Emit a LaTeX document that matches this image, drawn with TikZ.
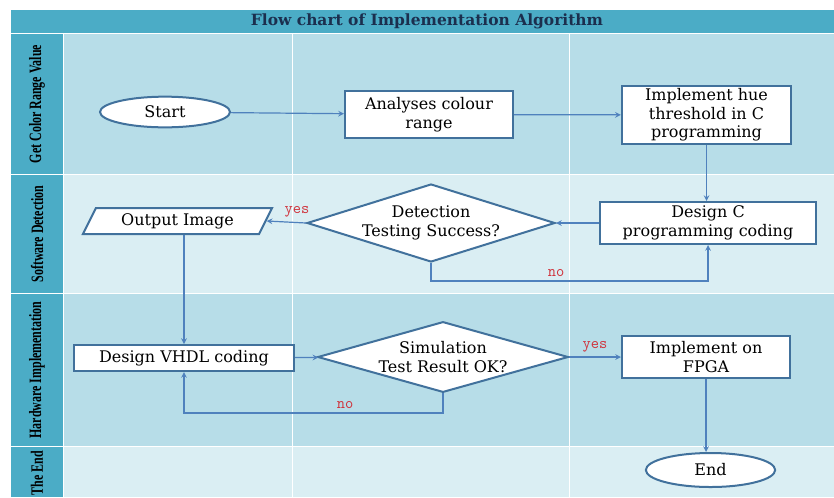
\documentclass[tikz,border=0pt]{standalone}
\usepackage{graphicx}
\usepackage{fontspec}
\setmainfont{DejaVu Serif}
\newfontfamily\lanefont{Liberation Serif}
\usepackage{tikz}
\usetikzlibrary{arrows, shapes.geometric, positioning}
\tikzset{>=stealth}

\definecolor{barteal}{HTML}{4BACC6}
\definecolor{lanedark}{HTML}{B7DDE8}
\definecolor{lanelight}{HTML}{DAEEF3}
\definecolor{edgeblue}{HTML}{41719C}
\definecolor{flowblue}{HTML}{4F81BD}
\definecolor{titleblue}{HTML}{1B2F4E}
\definecolor{answerred}{HTML}{D0313A}

\tikzset{
  shapebase/.style={draw=edgeblue, line width=1.5pt, fill=white, align=center,
    inner sep=1pt, font=\fontsize{12}{14}\selectfont},
  proc/.style={shapebase, rectangle},
  term/.style={shapebase, ellipse},
  decide/.style={shapebase, diamond, shape aspect=3.2, inner sep=-1.5pt},
  io/.style={shapebase, trapezium, trapezium left angle=63, trapezium right angle=117,
    trapezium stretches=true},
  flow/.style={->, draw=flowblue, line width=0.9pt},
  answer/.style={font=\ttfamily\fontsize{12}{13}\selectfont, text=answerred},
  lanetitle/.style={rotate=90, text=black, font=\lanefont\bfseries\fontsize{13}{15}\selectfont}
}

\begin{document}
\begin{tikzpicture}[x=0.75pt, y=-0.75pt]
  \useasboundingbox (0,0) rectangle (834,497);

  % swimlane background
  \fill[barteal] (11,10) rectangle (834,33);
  \fill[barteal] (11,33) rectangle (63,497);
  \fill[lanedark] (63,34) rectangle (834,174);
  \fill[lanelight] (63,175) rectangle (834,293);
  \fill[lanedark] (63,294) rectangle (834,446);
  \fill[lanelight] (63,447) rectangle (834,497);
  \draw[white, line width=1.2pt] (11,33.5) -- (834,33.5);
  \draw[white, line width=1.2pt] (11,174.5) -- (834,174.5);
  \draw[white, line width=1.2pt] (11,293.5) -- (834,293.5);
  \draw[white, line width=1.2pt] (11,446.5) -- (834,446.5);
  \draw[white, line width=0.8pt] (63.5,34) -- (63.5,497);
  \draw[white, line width=0.8pt] (292.5,34) -- (292.5,497);
  \draw[white, line width=0.8pt] (569.5,34) -- (569.5,497);

  \node[text=titleblue, font=\bfseries\fontsize{11.6}{13}\selectfont] (title) at (427,21.5)
    {Flow chart of Implementation Algorithm};
  \node[lanetitle] (laneA) at (37,104) {\scalebox{0.69}[1]{Get Color Range Value}};
  \node[lanetitle] (laneB) at (37,234) {\scalebox{0.69}[1]{Software Detection}};
  \node[lanetitle] (laneC) at (37,370) {\scalebox{0.69}[1]{Hardware Implementation}};
  \node[lanetitle] (laneD) at (37,473) {\scalebox{0.69}[1]{The End}};

  % flow chart
  \node[term, minimum width=97.5pt, minimum height=23pt] (start) at (165,112) {Start};
  \node[proc, minimum width=126pt, minimum height=35pt] (range) at (429,114.5) {Analyses colour\\range};
  \node[proc, minimum width=127pt, minimum height=43pt] (hue) at (706.5,115) {Implement hue\\threshold in C\\programming};
  \node[proc, minimum width=162pt, minimum height=31.5pt] (ccode) at (708,223) {Design C\\programming coding};
  \node[decide, minimum width=186pt, minimum height=58.5pt] (detect) at (431,223) {Detection\\Testing Success?};
  \node[io, minimum width=143pt, minimum height=19.5pt] (out) at (177.5,221) {Output Image};
  \node[proc, minimum width=165pt, minimum height=19.5pt] (vhdl) at (184,358) {Design VHDL coding};
  \node[decide, minimum width=188pt, minimum height=53pt] (sim) at (443,357) {Simulation\\Test Result OK?};
  \node[proc, minimum width=126pt, minimum height=31.5pt] (fpga) at (706,357) {Implement on\\FPGA};
  \node[term, minimum width=97pt, minimum height=25.5pt] (stop) at (710.5,470) {End};

  \coordinate (detno) at (431,281);
  \coordinate (simno) at (443,413);

  \draw[flow] (start) -- (range);
  \draw[flow] (range) -- (hue);
  \draw[flow] (hue.south) -- (hue.south |- ccode.north);
  \draw[flow] (ccode) -- (detect);
  \draw[flow] (detect.west) -- (out.east);
  \draw[flow] (detect.south) -- (detno) -| (ccode.south);
  \draw[flow] (vhdl.north |- out.south) -- (vhdl.north);
  \draw[flow] (vhdl) -- (sim);
  \draw[flow] (sim.south) -- (simno) -| (vhdl.south);
  \draw[flow] (sim) -- (fpga);
  \draw[flow] (fpga.south) -- (fpga.south |- stop.north);

  \node[answer] (yesA) at (297,212) {yes};
  \node[answer] (noA) at (556,273) {no};
  \node[answer] (noB) at (345,405) {no};
  \node[answer] (yesB) at (595,347) {yes};
\end{tikzpicture}
\end{document}
